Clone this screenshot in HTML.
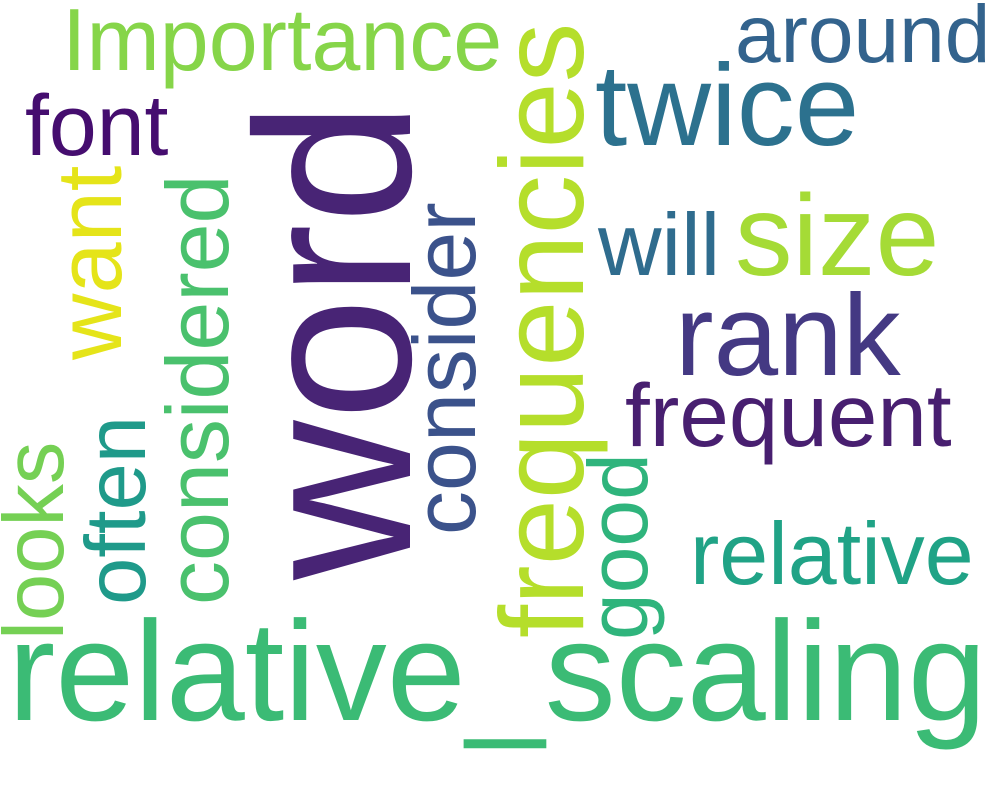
<!DOCTYPE html>
<html><head><meta charset="utf-8"><style>
html,body{margin:0;padding:0;background:#fff;}
svg{display:block;}
text{font-family:"Liberation Sans",Arial,sans-serif;}
</style></head><body>
<svg id="cloud" width="1000" height="800" viewBox="0 0 1000 800" xmlns="http://www.w3.org/2000/svg">
<rect width="1000" height="800" fill="#ffffff"/>
</svg>
<script>
const words = ["word","relative_scaling","frequencies","Importance","twice","rank","size","around","will","frequent","relative","font","want","considered","consider","often","looks","good"];
const sizes = [221,142,119,88,116,116,115,82,88,89,88,86,92,88,88,85,85,84];
const xs = [410,8,583,62,595,675,735,735,598,625,690,25,121,228,475,145,63,647];
const ys = [580,720,638,70,145,375,275,62,275,446,584,155,360,605,535,605,640,640];
const rot = [1,0,1,0,0,0,0,0,0,0,0,0,1,1,1,1,1,1];
const colors = ["#482475","#3bbb75","#b5de2b","#86d549","#2c718e","#443983","#a5db36","#33638d","#2f6c8e","#481f70","#20a386","#450d6f","#e5e419","#4ac16d","#3b528b","#1f9a8a","#75d054","#2fb47c"];
const svg = document.getElementById('cloud');
const NS = "http://www.w3.org/2000/svg";
for (let i = 0; i < words.length; i++) {
  const t = document.createElementNS(NS, 'text');
  
  
  t.setAttribute('font-size', sizes[i]);
  t.setAttribute('fill', colors[i]);
  if (rot[i]) {
    t.setAttribute('transform', 'translate(' + xs[i] + ',' + ys[i] + ') rotate(-90)');
    t.setAttribute('x', 0);
    t.setAttribute('y', 0);
  } else {
    t.setAttribute('x', xs[i]);
    t.setAttribute('y', ys[i]);
  }
  t.textContent = words[i];
  svg.appendChild(t);
}
</script>
</body></html>
